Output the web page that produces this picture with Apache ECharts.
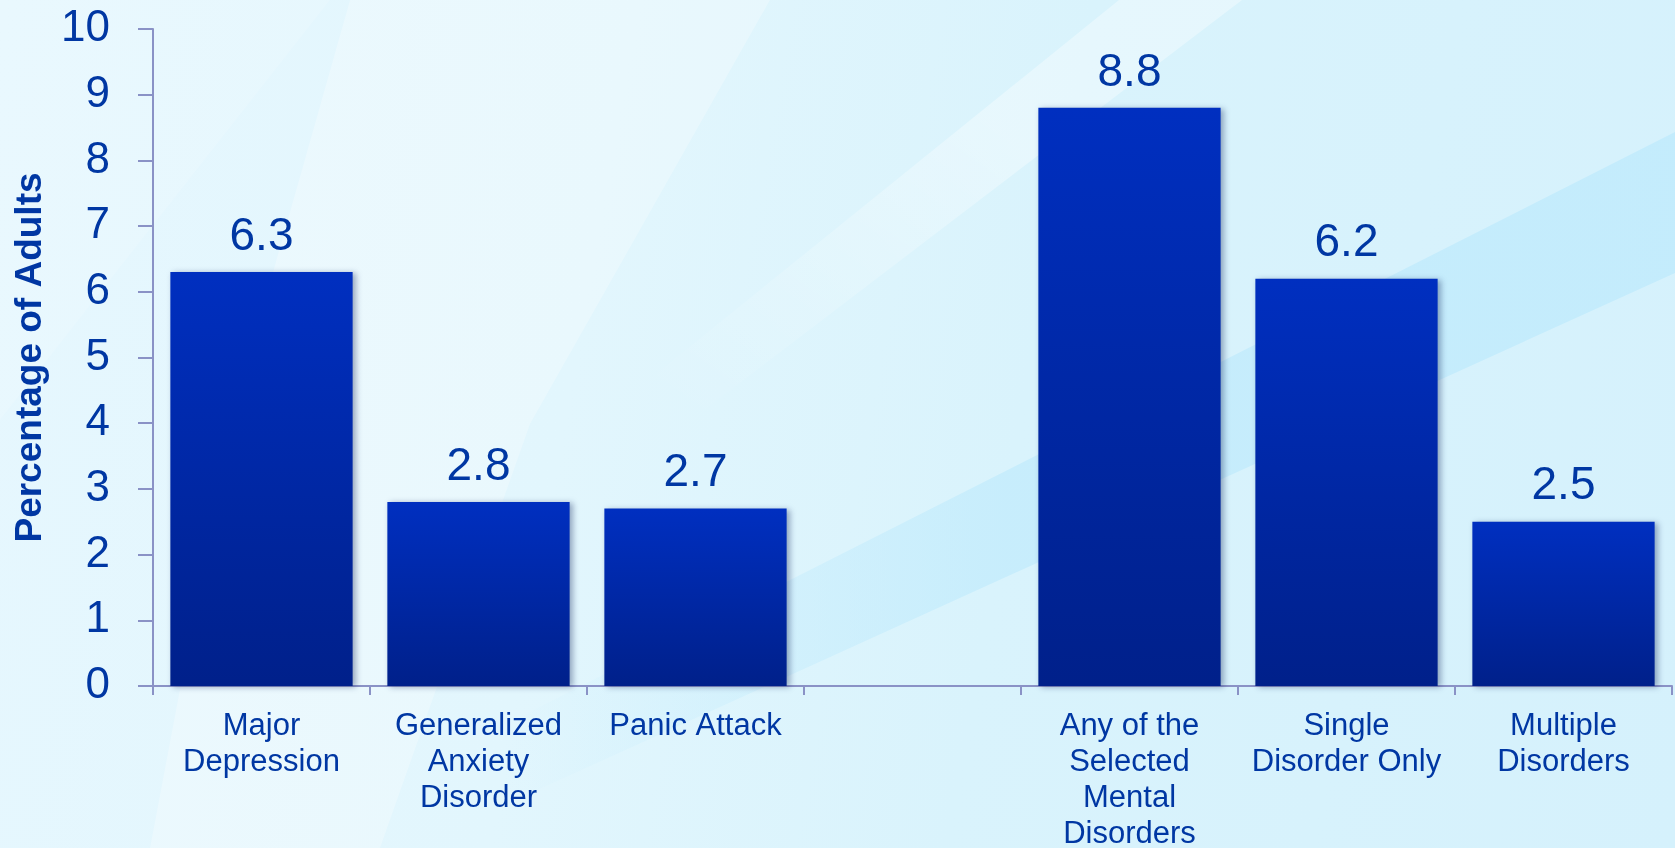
<!DOCTYPE html>
<html>
<head>
<meta charset="utf-8">
<script src="https://cdn.jsdelivr.net/npm/echarts@6/dist/echarts.min.js"></script>
<style>
html,body{margin:0;padding:0;}
body{
  width:1675px;height:848px;overflow:hidden;position:relative;
  background: linear-gradient(100deg, #e6f7fe 0%, #e2f6fd 35%, #d9f3fc 60%, #d5f1fc 100%);
}
.bg{position:absolute;left:0;top:0;width:1675px;height:848px;}
#bgA{background:rgba(255,255,255,0.25);clip-path:polygon(350px 0px,770px 0px,530px 424px,380px 848px,150px 848px,230px 424px);}
#bgB{background:linear-gradient(215deg, rgba(255,255,255,0.35) 0%, rgba(255,255,255,0.35) 30%, rgba(255,255,255,0) 55%);clip-path:polygon(1119px 0px,1242px 0px,560px 520px,500px 500px);}
#bgC{background:linear-gradient(to right, rgba(190,234,252,0) 30%, rgba(190,234,252,0.65) 60%, rgba(190,234,252,0.75) 100%);clip-path:polygon(500px 727px,1675px 132px,1675px 273px,500px 807px);}
#bgD{background:rgba(255,255,255,0.12);clip-path:polygon(0px 0px,330px 0px,0px 420px);}
#chart{position:absolute;left:0;top:0;width:1675px;height:848px;}
</style>
</head>
<body>
<div class="bg" id="bgD"></div>
<div class="bg" id="bgA"></div>
<div class="bg" id="bgB"></div>
<div class="bg" id="bgC"></div>
<div id="chart"></div>
<script>
const categories = ['Major\nDepression', 'Generalized\nAnxiety\nDisorder', 'Panic Attack', '', 'Any of the\nSelected\nMental\nDisorders', 'Single\nDisorder Only', 'Multiple\nDisorders'];
const values = [6.3, 2.8, 2.7, null, 8.8, 6.2, 2.5];
const yTicks = [0, 1, 2, 3, 4, 5, 6, 7, 8, 9, 10];
const yTitle = 'Percentage of Adults';

const textColor = '#0037a3';
const axisColor = '#8a92c6';
const font = '"Liberation Sans", Arial, sans-serif';

const chart = echarts.init(document.getElementById('chart'), null, {renderer: 'canvas'});
chart.setOption({
  backgroundColor: 'transparent',
  animation: false,
  grid: {left: 153, right: 3, top: 29, bottom: 162, containLabel: false, outerBoundsMode: 'none'},
  xAxis: {
    type: 'category',
    data: categories,
    axisLine: {lineStyle: {color: axisColor, width: 2}},
    axisTick: {show: true, length: 9, lineStyle: {color: axisColor, width: 2}},
    axisLabel: {
      interval: 0, color: textColor, fontSize: 31, lineHeight: 36,
      fontFamily: font, margin: 22
    }
  },
  yAxis: {
    type: 'value',
    min: yTicks[0], max: yTicks[yTicks.length - 1], interval: 1,
    name: yTitle,
    nameLocation: 'middle',
    nameRotate: 90,
    nameGap: 104,
    nameTextStyle: {color: textColor, fontSize: 37, fontWeight: 'bold', fontFamily: font},
    axisLine: {show: true, lineStyle: {color: axisColor, width: 2}},
    axisTick: {show: true, length: 15, lineStyle: {color: axisColor, width: 2}},
    splitLine: {show: false},
    axisLabel: {color: textColor, fontSize: 44, fontFamily: font, margin: 43}
  },
  series: [{
    type: 'bar',
    data: values,
    barCategoryGap: '16%',
    itemStyle: {
      color: new echarts.graphic.LinearGradient(0, 0, 0, 1, [
        {offset: 0, color: '#002fc0'},
        {offset: 1, color: '#00208a'}
      ]),
      shadowColor: 'rgba(0,20,80,0.35)',
      shadowBlur: 6,
      shadowOffsetX: 3,
      shadowOffsetY: 1
    },
    label: {
      show: true, position: 'top', distance: 12,
      color: textColor, fontSize: 46, fontFamily: font
    }
  }]
});
</script>
</body>
</html>
